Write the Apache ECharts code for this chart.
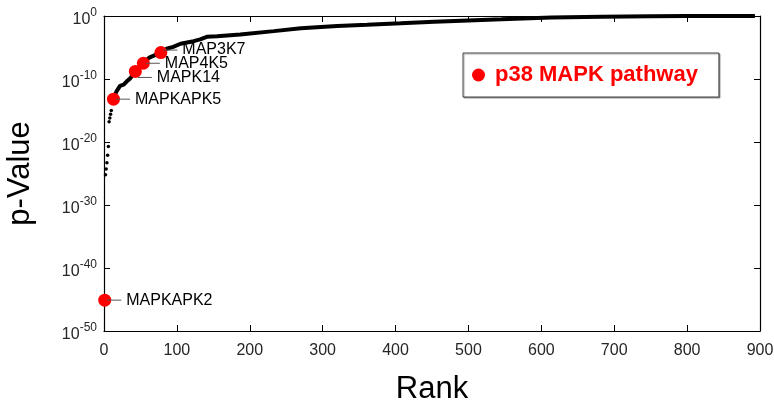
<!DOCTYPE html>
<html>
<head>
<meta charset="utf-8">
<script src="https://cdn.jsdelivr.net/npm/echarts@6/dist/echarts.min.js"></script>
<style>
html,body{margin:0;padding:0;background:#fff;}
#chart{width:774px;height:402px;}
</style>
</head>
<body>
<div id="chart"></div>
<script>
// Sparse leading genes (rank, log10 p-value)
const earlyRanks = [2, 3, 4, 5, 6, 7, 8, 9, 10];
const earlyLogP  = [-25.2, -24.3, -23.3, -22.1, -20.7, -16.8, -16.2, -15.6, -15.0];

// Dense main curve (rank, log10 p-value)
const curveRanks = [13, 15, 17, 22, 27, 31, 36, 43, 54, 62, 70, 78, 86, 95, 105, 114, 123, 132, 141, 155, 187, 233, 270, 320, 361, 407, 453, 500, 545, 614, 683, 750, 800, 893];
const curveLogP  = [-13.2, -12.5, -12.0, -11.1, -10.9, -10.4, -9.9, -8.8, -7.5, -6.6, -6.2, -5.8, -5.2, -4.9, -4.4, -4.2, -4.0, -3.7, -3.3, -3.2, -2.95, -2.4, -1.95, -1.6, -1.4, -1.16, -0.9, -0.7, -0.53, -0.25, -0.1, -0.03, -0.01, 0];

// p38 MAPK pathway genes
const pathwayNames = ['MAPKAPK2', 'MAPKAPK5', 'MAPK14', 'MAP4K5', 'MAP3K7'];
const pathwayRanks = [1, 13, 43, 54, 78];
const pathwayLogP  = [-45.1, -13.2, -8.8, -7.5, -5.8];
const pathwayLabelDy = [0, 0, 6, 0, -2.5];

// Axis ticks
const xTicks = [0, 100, 200, 300, 400, 500, 600, 700, 800, 900];
const yTickExponents = [-50, -40, -30, -20, -10, 0];
const legendName = 'p38 MAPK pathway';

const FONT = 'Liberation Sans, Arial, Helvetica, sans-serif';

const chart = echarts.init(document.getElementById('chart'), null, {renderer: 'canvas'});

const axisLineStyle = {color: '#000', width: 1.2};
const yAxisBase = {
  type: 'value',
  min: yTickExponents[0],
  max: yTickExponents[yTickExponents.length - 1],
  interval: yTickExponents[1] - yTickExponents[0],
  splitLine: {show: false},
  axisLine: {show: true, onZero: false, lineStyle: axisLineStyle},
  axisTick: {show: true, inside: true, length: 6, lineStyle: {color: '#000', width: 1}}
};
const xAxisBase = {
  type: 'value',
  min: xTicks[0],
  max: xTicks[xTicks.length - 1],
  interval: xTicks[1] - xTicks[0],
  splitLine: {show: false},
  axisLine: {show: true, onZero: false, lineStyle: axisLineStyle},
  axisTick: {show: true, inside: true, length: 6, lineStyle: {color: '#000', width: 1}}
};

const option = {
  backgroundColor: '#fff',
  animation: false,
  grid: {left: 104, right: 14, top: 16, bottom: 71, containLabel: false, outerBoundsMode: 'none'},
  legend: {
    data: [legendName],
    left: 463,
    top: 53,
    icon: 'circle',
    itemWidth: 23,
    itemHeight: 13,
    padding: [11, 21, 11, 9],
    borderColor: '#444',
    borderWidth: 1,
    borderRadius: 0,
    backgroundColor: '#fff',
    shadowColor: 'rgba(0,0,0,0.35)',
    shadowOffsetX: 1,
    shadowOffsetY: 1,
    shadowBlur: 1,
    itemStyle: {opacity: 1},
    textStyle: {color: '#ff0000', fontWeight: 'bold', fontSize: 22, fontFamily: FONT}
  },
  xAxis: [
    Object.assign({}, xAxisBase, {
      position: 'bottom',
      name: 'Rank',
      nameLocation: 'middle',
      nameGap: 43,
      nameTextStyle: {fontSize: 31, color: '#000', fontFamily: FONT},
      axisLabel: {color: '#262626', fontSize: 16, margin: 12, fontFamily: FONT}
    }),
    Object.assign({}, xAxisBase, {
      position: 'top',
      axisLabel: {show: false}
    })
  ],
  yAxis: [
    Object.assign({}, yAxisBase, {
      position: 'left',
      name: 'p-Value',
      nameLocation: 'middle',
      nameGap: 68,
      nameTextStyle: {fontSize: 31, color: '#000', fontFamily: FONT},
      axisLabel: {
        margin: 7,
        formatter: v => '{b|10}{s|' + Math.round(v) + '}',
        rich: {
          b: {fontSize: 16, color: '#262626', fontFamily: FONT, padding: [8, 0, 0, 0], verticalAlign: 'middle'},
          s: {fontSize: 12, color: '#262626', fontFamily: FONT, padding: [0, 0, 6, 0], verticalAlign: 'middle'}
        }
      }
    }),
    Object.assign({}, yAxisBase, {
      position: 'right',
      axisLabel: {show: false}
    })
  ],
  series: [
    {
      name: 'early',
      type: 'scatter',
      symbol: 'circle',
      symbolSize: 3.5,
      itemStyle: {color: '#000', opacity: 1},
      data: earlyRanks.map((r, i) => [r, earlyLogP[i]]),
      z: 2
    },
    {
      name: 'curve',
      type: 'line',
      showSymbol: false,
      symbol: 'none',
      lineStyle: {color: '#000', width: 4},
      data: curveRanks.map((r, i) => [r, curveLogP[i]]),
      z: 2
    },
    {
      name: legendName,
      type: 'scatter',
      symbol: 'circle',
      symbolSize: 13,
      itemStyle: {color: '#ff0000', opacity: 1},
      z: 5,
      label: {
        show: true,
        position: 'right',
        distance: -4,
        formatter: p => '{ln| }{t|' + p.name + '}',
        rich: {
          ln: {width: 14, height: 1, backgroundColor: '#555', verticalAlign: 'middle', fontSize: 1, lineHeight: 1},
          t: {fontSize: 16, color: '#000', fontFamily: FONT, padding: [0, 0, 0, 5], verticalAlign: 'middle'}
        }
      },
      data: pathwayNames.map((n, i) => ({
        name: n,
        value: [pathwayRanks[i], pathwayLogP[i]],
        label: {offset: [0, pathwayLabelDy[i]]}
      }))
    }
  ]
};
chart.setOption(option);
</script>
</body>
</html>
